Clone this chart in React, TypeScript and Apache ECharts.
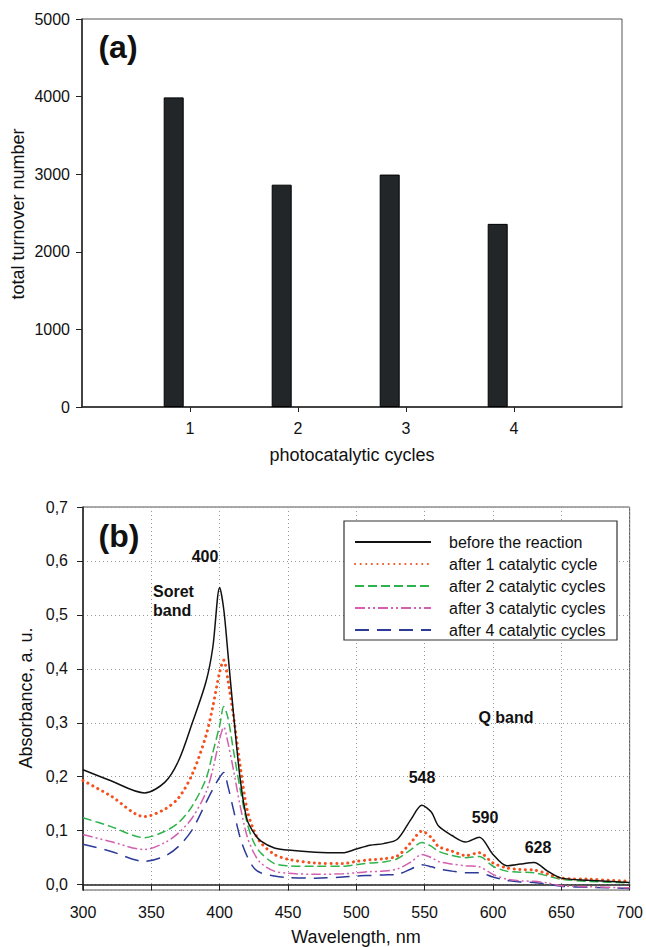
import React, { useEffect, useRef } from "react";
import * as echarts from "echarts";

// ---------- panel (a) data ----------
const cycles = [1, 2, 3, 4];
const turnover = [3990, 2865, 2995, 2360];
const cycleTicks = [1, 2, 3, 4];

// ---------- panel (b) data ----------
const wavelength = [
  300, 320, 345, 360, 370, 380, 390, 395, 400, 403, 406, 410, 415, 420, 425, 430, 440, 450, 470, 490,
  500, 510, 520, 530, 540, 548, 555, 560, 570, 580, 590, 600, 610, 620, 630, 640, 650, 670, 700,
];
const absBefore = [
  0.213, 0.193, 0.17, 0.19, 0.23, 0.3, 0.376, 0.44, 0.551, 0.51, 0.43, 0.32, 0.196, 0.121, 0.096, 0.081, 0.068, 0.064, 0.06, 0.059,
  0.066, 0.073, 0.076, 0.084, 0.121, 0.147, 0.134, 0.109, 0.091, 0.079, 0.088, 0.056, 0.035, 0.038, 0.041, 0.025, 0.012, 0.008, 0.004,
];
const absCycle1 = [
  0.193, 0.165, 0.126, 0.14, 0.161, 0.205, 0.276, 0.33, 0.394, 0.416, 0.38, 0.314, 0.22, 0.14, 0.1, 0.078, 0.056, 0.047, 0.04, 0.039,
  0.043, 0.046, 0.048, 0.053, 0.078, 0.099, 0.087, 0.071, 0.062, 0.054, 0.059, 0.04, 0.031, 0.028, 0.027, 0.02, 0.012, 0.01, 0.006,
];
const absCycle2 = [
  0.124, 0.108, 0.087, 0.099, 0.115, 0.146, 0.196, 0.245, 0.295, 0.33, 0.31, 0.25, 0.177, 0.115, 0.078, 0.059, 0.039, 0.035, 0.034, 0.034,
  0.037, 0.04, 0.042, 0.048, 0.065, 0.078, 0.071, 0.062, 0.054, 0.05, 0.052, 0.034, 0.025, 0.023, 0.022, 0.016, 0.01, 0.006, 0.003,
];
const absCycle3 = [
  0.093, 0.08, 0.065, 0.078, 0.096, 0.124, 0.171, 0.214, 0.27, 0.292, 0.264, 0.214, 0.146, 0.09, 0.059, 0.04, 0.025, 0.021, 0.019, 0.02,
  0.022, 0.024, 0.025, 0.029, 0.042, 0.056, 0.05, 0.043, 0.038, 0.035, 0.033, 0.019, 0.01, 0.007, 0.006, 0.003, -0.002, -0.004, -0.006,
];
const absCycle4 = [
  0.075, 0.062, 0.043, 0.053, 0.071, 0.102, 0.152, 0.177, 0.199, 0.208, 0.183, 0.14, 0.087, 0.053, 0.031, 0.022, 0.016, 0.013, 0.012, 0.014,
  0.016, 0.017, 0.018, 0.019, 0.029, 0.037, 0.033, 0.029, 0.025, 0.022, 0.022, 0.014, 0.008, 0.005, 0.004, 0.001, -0.003, -0.005, -0.007,
];
const seriesNames = [
  "before the reaction",
  "after 1 catalytic cycle",
  "after 2 catalytic cycles",
  "after 3 catalytic cycles",
  "after 4 catalytic cycles",
];

const FONT = "'Liberation Sans', Arial, Helvetica, sans-serif";

export default function App() {
  const ref = useRef<HTMLDivElement>(null);

  useEffect(() => {
    if (!ref.current) return;
    const chart = echarts.init(ref.current, undefined, { renderer: "svg" });

    const spectra = [absBefore, absCycle1, absCycle2, absCycle3, absCycle4];
    const styles: any[] = [
      { color: "#111111", width: 1.5, type: "solid" },
      { color: "#f4511e", width: 3, type: [0.1, 5.5], cap: "round" },
      { color: "#2db34a", width: 1.5, type: [9, 4] },
      { color: "#d45fae", width: 1.5, type: [10, 3, 2, 3, 2, 3] },
      { color: "#2d3a98", width: 1.5, type: [14, 8] },
    ];

    const lineSeries = spectra.map((vals, i) => ({
      name: seriesNames[i],
      type: "line",
      xAxisIndex: 1,
      yAxisIndex: 1,
      data: wavelength.map((w, j) => [w, vals[j]]),
      showSymbol: false,
      symbol: "none",
      smooth: 0.3,
      color: styles[i].color,
      lineStyle: styles[i],
      z: 3 + (4 - i),
    }));

    const boldText = (text: string, x: number, y: number, size = 16, align = "center") => ({
      type: "text",
      x,
      y,
      z: 10,
      style: {
        text,
        fill: "#111",
        font: `bold ${size}px ${FONT}`,
        align,
        verticalAlign: "middle",
      },
    });
    const plainText = (text: string, x: number, y: number, rot = 0) => ({
      type: "text",
      x,
      y,
      rotation: rot,
      z: 10,
      style: {
        text,
        fill: "#111",
        font: `18px ${FONT}`,
        align: "center",
        verticalAlign: "middle",
      },
    });

    const option: any = {
      animation: false,
      backgroundColor: "#ffffff",
      textStyle: { fontFamily: FONT },
      grid: [
        { left: 82, top: 19, right: 24, height: 388, show: true, borderColor: "#555", borderWidth: 1, backgroundColor: "transparent" },
        { left: 83, top: 507, right: 16, height: 383, show: true, borderColor: "#555", borderWidth: 1, backgroundColor: "transparent" },
      ],
      xAxis: [
        {
          type: "value",
          gridIndex: 0,
          min: 0,
          max: 5,
          interval: 1,
          axisLine: { show: true, lineStyle: { color: "#222", width: 1.5 } },
          axisTick: { show: true, customValues: cycleTicks, length: 5, lineStyle: { color: "#222" } },
          axisLabel: {
            customValues: cycleTicks,
            formatter: (v: number) => (v >= 1 && v <= 4 ? String(v) : ""),
            fontSize: 16,
            color: "#111",
            margin: 13,
          },
          splitLine: { show: false },
        },
        {
          type: "value",
          gridIndex: 1,
          min: 300,
          max: 700,
          interval: 50,
          axisLine: { show: true, lineStyle: { color: "#222", width: 1.5 } },
          axisTick: { show: true, length: 6, lineStyle: { color: "#222" } },
          axisLabel: { fontSize: 16, color: "#111", margin: 14, formatter: (v: number) => String(v) },
          splitLine: { show: true, lineStyle: { color: "#999", type: [1, 3], width: 1 } },
        },
      ],
      yAxis: [
        {
          type: "value",
          gridIndex: 0,
          min: 0,
          max: 5000,
          interval: 1000,
          axisLine: { show: true, lineStyle: { color: "#222", width: 1.5 } },
          axisTick: { show: true, length: 6, lineStyle: { color: "#222" } },
          axisLabel: { fontSize: 16, color: "#111", margin: 12, formatter: (v: number) => String(v) },
          splitLine: { show: false },
        },
        {
          type: "value",
          gridIndex: 1,
          min: -0.01,
          max: 0.7,
          splitNumber: 7,
          axisLine: { show: true, lineStyle: { color: "#222", width: 1.5 } },
          axisTick: { show: true, length: 6, lineStyle: { color: "#222" } },
          axisLabel: {
            fontSize: 16,
            color: "#111",
            margin: 15,
            showMinLabel: false,
            formatter: (v: number) => (v < -0.001 ? "" : v.toFixed(1).replace(".", ",")),
          },
          splitLine: { show: true, lineStyle: { color: "#999", type: [1, 3], width: 1 } },
        },
      ],
      legend: {
        data: seriesNames,
        orient: "vertical",
        left: 354,
        top: 534,
        padding: 0,
        itemWidth: 76,
        itemHeight: 14,
        itemGap: 6,
        selectedMode: false,
        itemStyle: { opacity: 0 },
        textStyle: { fontSize: 16, color: "#111", padding: [0, 0, 0, 13] },
        z: 12,
      },
      series: [
        {
          name: "turnover",
          type: "bar",
          xAxisIndex: 0,
          yAxisIndex: 0,
          data: cycles.map((c, i) => [c, turnover[i]]),
          barWidth: 20,
          barGap: "63%",
          itemStyle: { color: "#222628", borderColor: "#000", borderWidth: 1 },
        },
        {
          name: "ghost",
          type: "bar",
          xAxisIndex: 0,
          yAxisIndex: 0,
          data: cycles.map((c) => [c, null]),
          barWidth: 20,
          barGap: "63%",
        },
        ...lineSeries,
      ],
      graphic: [
        {
          type: "rect",
          z: 11,
          shape: { x: 344, y: 521, width: 273, height: 119 },
          style: { fill: "#fff", stroke: "#333", lineWidth: 1.2 },
        },
        boldText("(a)", 118, 47, 32),
        boldText("(b)", 119, 536, 32),
        boldText("400", 205, 556),
        boldText("Soret", 153, 591, 16, "left"),
        boldText("band", 153, 610, 16, "left"),
        boldText("Q band", 506, 717),
        boldText("548", 422, 777),
        boldText("590", 485, 817),
        boldText("628", 538, 847),
        plainText("total turnover number", 18, 214, Math.PI / 2),
        plainText("photocatalytic cycles", 352, 455),
        plainText("Absorbance, a. u.", 26, 698, Math.PI / 2),
        plainText("Wavelength, nm", 356, 937),
      ],
    };

    chart.setOption(option);
    return () => chart.dispose();
  }, []);

  return (
    <div
      ref={ref}
      style={{ position: "fixed", left: 0, top: 0, width: 646, height: 947, background: "#fff" }}
    />
  );
}
